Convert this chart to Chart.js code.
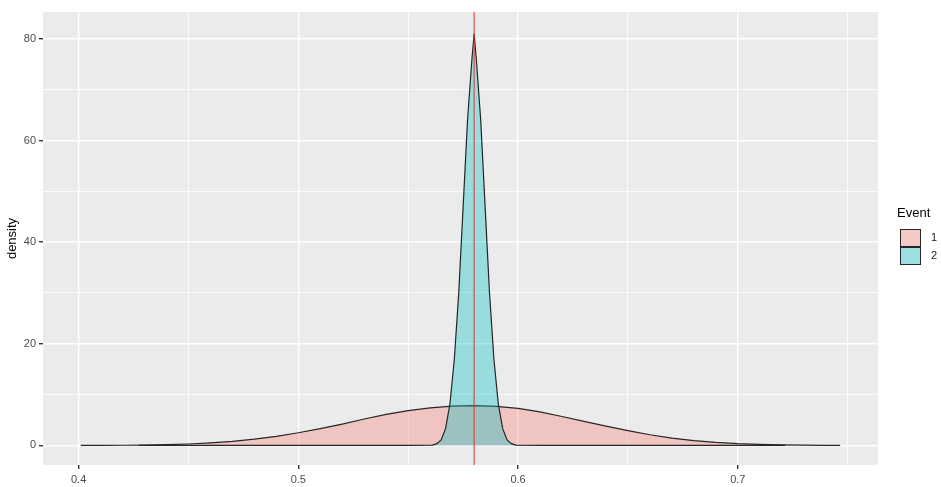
<!DOCTYPE html>
<html>
<head>
<meta charset="utf-8">
<title>density</title>
<script src="https://cdn.jsdelivr.net/npm/chart.js@4"></script>
<style>
    body { margin: 0; background: #ffffff; }
    #wrap { width: 941px; height: 487px; position: relative; }
</style>
</head>
<body>
<div id="wrap"><canvas id="densityChart"></canvas></div>
<script>
/* ================= DATA ================= */

const eventNames = ["1", "2"];

const event1X = [0.401, 0.41, 0.42, 0.43, 0.44, 0.45, 0.46, 0.47, 0.48, 0.49, 0.50, 0.51, 0.52, 0.53, 0.54, 0.55, 0.56, 0.57, 0.58, 0.59, 0.60, 0.61, 0.62, 0.63, 0.64, 0.65, 0.66, 0.67, 0.68, 0.69, 0.70, 0.71, 0.72, 0.73, 0.74, 0.7466];
const event1Y = [0, 0.02, 0.04, 0.08, 0.15, 0.28, 0.5, 0.8, 1.25, 1.8, 2.5, 3.3, 4.2, 5.2, 6.1, 6.85, 7.4, 7.75, 7.85, 7.7, 7.3, 6.6, 5.7, 4.75, 3.8, 2.9, 2.1, 1.45, 0.95, 0.6, 0.35, 0.2, 0.1, 0.05, 0.02, 0];

const event2X = [0.4275, 0.55, 0.561, 0.563, 0.565, 0.567, 0.569, 0.571, 0.573, 0.575, 0.577, 0.579, 0.58, 0.581, 0.583, 0.585, 0.587, 0.589, 0.591, 0.593, 0.595, 0.597, 0.599, 0.61, 0.7216];
const event2Y = [0, 0, 0.08, 0.35, 1.1, 3.3, 8.2, 17, 30, 47, 64, 76, 81, 76, 64, 47, 30, 17, 8.2, 3.3, 1.1, 0.35, 0.08, 0, 0];

const refLine = 0.58;

const xMajor = [0.4, 0.5, 0.6, 0.7];
const xMinor = [0.45, 0.55, 0.65, 0.75];
const yMajor = [0, 20, 40, 60, 80];
const yMinor = [10, 30, 50, 70];

const xRange = [0.3838, 0.7638];
const yRange = [-3.85, 85.3];

/* ================= STYLE ================= */

const fillColors = ["rgba(248,118,109,0.33)", "rgba(0,191,196,0.35)"];
const outlineColor = "#262626";
const panelColor = "#EBEBEB";
const tickFont = { family: "'Liberation Sans', Arial, sans-serif", size: 11 };

function toPoints(xs, ys) {
    return xs.map((x, i) => ({ x: x, y: ys[i] }));
}

function tickList(major, minor) {
    return major.map(v => ({ value: v, isMinor: false }))
        .concat(minor.map(v => ({ value: v, isMinor: true })))
        .sort((a, b) => a.value - b.value);
}

function gridOptions() {
    return {
        color: "#FFFFFF",
        lineWidth: ctx => (ctx.tick && ctx.tick.isMinor) ? 0.8 : 1.4,
        tickColor: ctx => (ctx.tick && ctx.tick.isMinor) ? "rgba(0,0,0,0)" : "#333333",
        tickLength: 4,
        drawTicks: true
    };
}

/* ================= PLUGINS ================= */

const panelBackground = {
    id: "panelBackground",
    beforeDraw(chart) {
        const { ctx, chartArea } = chart;
        ctx.save();
        ctx.fillStyle = panelColor;
        ctx.fillRect(chartArea.left, chartArea.top, chartArea.right - chartArea.left, chartArea.bottom - chartArea.top);
        ctx.restore();
    }
};

// ggplot style legend on the right
const eventLegend = {
    id: "eventLegend",
    afterDraw(chart) {
        const ctx = chart.ctx;
        ctx.save();
        ctx.fillStyle = "#000000";
        ctx.font = "13px 'Liberation Sans', Arial, sans-serif";
        ctx.textBaseline = "middle";
        ctx.textAlign = "left";
        ctx.fillText("Event", 897, 213);

        eventNames.forEach((name, i) => {
            const top = 229 + i * 18;
            ctx.fillStyle = "#F2F2F2";
            ctx.fillRect(900, top, 21, 18);
            ctx.fillStyle = fillColors[i];
            ctx.fillRect(900, top, 21, 18);
            ctx.strokeStyle = outlineColor;
            ctx.lineWidth = 1;
            ctx.strokeRect(900.5, top + 0.5, 20, 17);
            ctx.fillStyle = "#1A1A1A";
            ctx.font = "11px 'Liberation Sans', Arial, sans-serif";
            ctx.fillText(name, 931, top + 9);
        });
        ctx.restore();
    }
};

/* ================= CHART ================= */

new Chart(document.getElementById("densityChart"), {
    type: "line",
    data: {
        datasets: [
            {
                label: "ref",
                data: [{ x: refLine, y: yRange[0] }, { x: refLine, y: yRange[1] }],
                borderColor: "#E8302A",
                borderWidth: 1,
                pointRadius: 0,
                fill: false,
                order: 0
            },
            {
                label: eventNames[1],
                data: toPoints(event2X, event2Y),
                borderColor: outlineColor,
                borderWidth: 1.2,
                backgroundColor: fillColors[1],
                pointRadius: 0,
                tension: 0,
                fill: "origin",
                order: 1
            },
            {
                label: eventNames[0],
                data: toPoints(event1X, event1Y),
                borderColor: outlineColor,
                borderWidth: 1.2,
                backgroundColor: fillColors[0],
                pointRadius: 0,
                tension: 0,
                fill: "origin",
                order: 2
            }
        ]
    },
    options: {
        responsive: true,
        maintainAspectRatio: false,
        animation: false,
        events: [],
        layout: { padding: { top: 12, right: 63, left: 0, bottom: 0 } },
        plugins: {
            legend: { display: false },
            tooltip: { enabled: false }
        },
        scales: {
            x: {
                type: "linear",
                min: xRange[0],
                max: xRange[1],
                border: { display: false },
                grid: gridOptions(),
                afterBuildTicks: scale => { scale.ticks = tickList(xMajor, xMinor); },
                afterFit: scale => { scale.height = 22; },
                ticks: {
                    autoSkip: false,
                    maxRotation: 0,
                    padding: 4,
                    color: "#4D4D4D",
                    font: tickFont,
                    callback: (v) => xMajor.includes(v) ? String(v) : ""
                }
            },
            y: {
                type: "linear",
                min: yRange[0],
                max: yRange[1],
                border: { display: false },
                grid: gridOptions(),
                afterBuildTicks: scale => { scale.ticks = tickList(yMajor, yMinor); },
                afterFit: scale => { scale.width = 43; },
                title: {
                    display: true,
                    text: "density",
                    color: "#000000",
                    font: { family: "'Liberation Sans', Arial, sans-serif", size: 13 },
                    padding: { top: 5, bottom: 0 }
                },
                ticks: {
                    autoSkip: false,
                    padding: 3,
                    color: "#4D4D4D",
                    font: tickFont,
                    callback: (v) => yMajor.includes(v) ? String(v) : ""
                }
            }
        }
    },
    plugins: [panelBackground, eventLegend]
});
</script>
</body>
</html>
